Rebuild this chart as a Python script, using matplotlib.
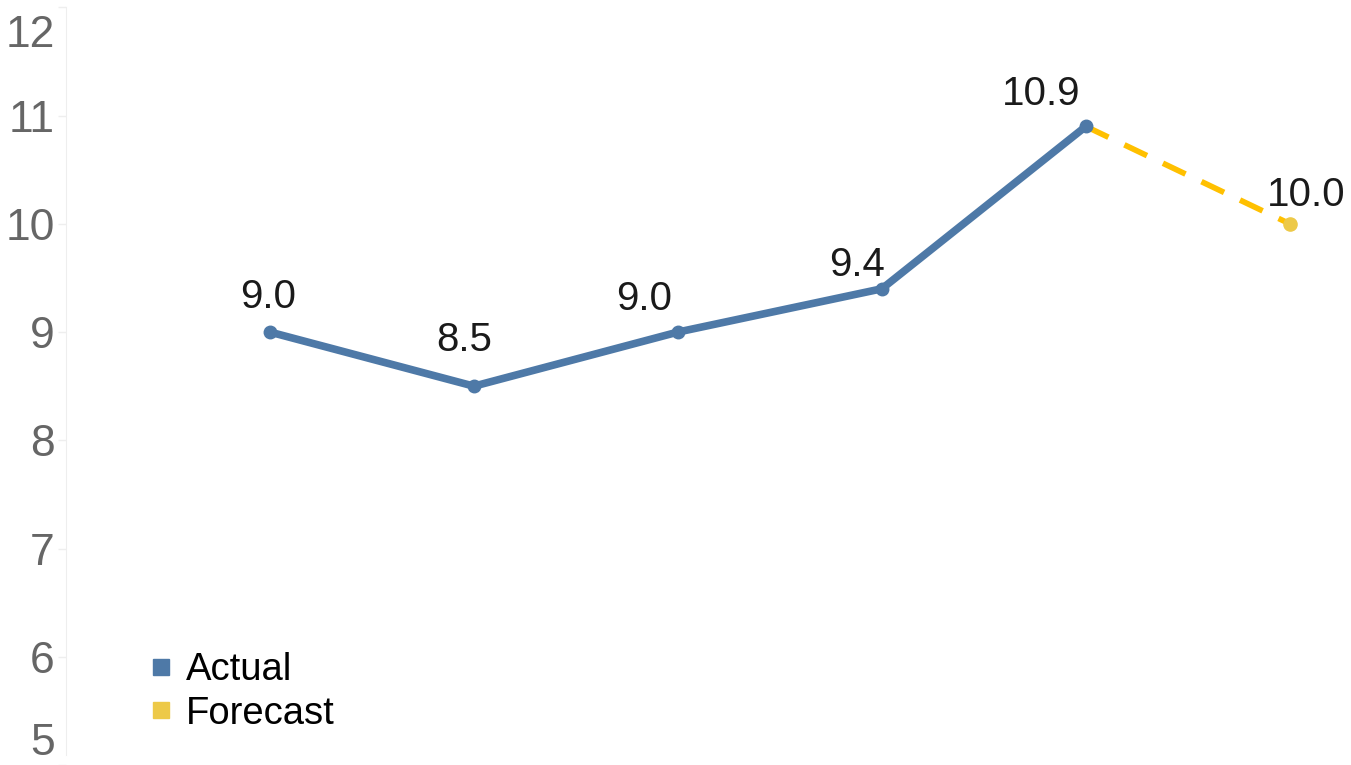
import matplotlib
matplotlib.use("Agg")
import matplotlib.pyplot as plt
from matplotlib.lines import Line2D

plt.rcParams['font.family'] = ['Liberation Sans', 'DejaVu Sans']

# data
actual_x = [0, 1, 2, 3, 4]
actual_y = [9.0, 8.5, 9.0, 9.4, 10.9]
forecast_x = [4, 5]
forecast_y = [10.9, 10.0]
y_ticks = [5, 6, 7, 8, 9, 10, 11, 12]

blue = '#4e79a7'
yellow_line = '#ffc000'
yellow_dot = '#edc948'

# label offsets in points (dx, dy)
lab_off = [(-1, 25), (-7, 33), (-24, 24), (-18, 17), (-32, 23), (12, 21)]

fig = plt.figure(figsize=(13.51, 7.65), dpi=100)
ax = fig.add_axes([66 / 1351, 0, 1 - 66 / 1351, 1])

ax.plot(actual_x, actual_y, color=blue, lw=5.5, solid_capstyle='round', zorder=3)
ax.plot(actual_x, actual_y, 'o', color=blue, ms=9, zorder=4)
ax.plot(forecast_x, forecast_y, color=yellow_line, lw=4.1, dashes=(4.4, 3.1), zorder=2)
ax.plot(forecast_x[1:], forecast_y[1:], 'o', color=yellow_dot, ms=9.5, zorder=4)

all_x = actual_x + forecast_x[1:]
all_y = actual_y + forecast_y[1:]
for (x, y), (dx, dy) in zip(zip(all_x, all_y), lab_off):
    ax.annotate(f"{y:.1f}", (x, y), xytext=(dx, dy), textcoords='offset points',
                ha='center', va='center', fontsize=29, color='#1a1a1a')

ax.set_xlim(-1, 5.3)
ax.set_ylim(5.088, 12.068)
ax.set_xticks([])
ax.set_yticks(y_ticks)
# end labels are pushed inward so they stay inside the picture
ax.set_yticklabels(['' if t in (5, 12) else str(t) for t in y_ticks])
ax.tick_params(axis='y', labelsize=32, labelcolor='#666666', color='#eeeeee',
               length=6, width=1, pad=2)
for t, dy in [(12, -17), (5, 18.5)]:
    ax.annotate(str(t), (0, t), xycoords=('axes fraction', 'data'), xytext=(-8, dy),
                textcoords='offset points', ha='right', va='center_baseline',
                fontsize=32, color='#666666', annotation_clip=False)

for s in ['top', 'right', 'bottom']:
    ax.spines[s].set_visible(False)
ax.spines['left'].set_color('#eeeeee')
ax.spines['left'].set_bounds(5.088, 12)

handles = [Line2D([], [], ls='none', marker='s', ms=12, color=blue, label='Actual'),
           Line2D([], [], ls='none', marker='s', ms=12, color=yellow_dot, label='Forecast')]
ax.legend(handles=handles, loc='center left', bbox_to_anchor=(132 / 1351, 1 - 692 / 765),
          bbox_transform=fig.transFigure, frameon=False, fontsize=27.5,
          handlelength=0.5, handletextpad=0.4, labelspacing=0.2, borderpad=0)

fig.savefig('out.png', dpi=100)
